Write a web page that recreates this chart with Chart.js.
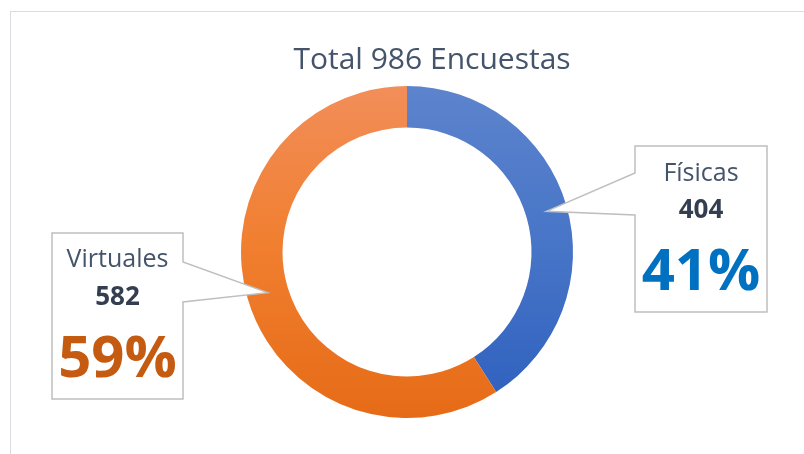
<!DOCTYPE html>
<html>
<head>
<meta charset="utf-8">
<script src="https://cdn.jsdelivr.net/npm/chart.js@4/dist/chart.umd.min.js"></script>
<style>
  html, body { margin: 0; padding: 0; background: #ffffff; overflow: hidden; }
  #wrap { position: relative; width: 804px; height: 454px; }
  #frame { position: absolute; left: 10px; top: 11px; width: 900px; height: 600px;
           border: 1.5px solid #d9dde3; box-sizing: border-box; }
  canvas { position: absolute; left: 0; top: 0; }
</style>
</head>
<body>
<div id="wrap">
  <div id="frame"></div>
  <canvas id="c" width="804" height="454"></canvas>
</div>
<script>
const categories = ['Físicas', 'Virtuales'];
const counts = [404, 582];
const percentLabels = ['41%', '59%'];
const titleText = 'Total 986 Encuestas';

const FONT = '"Open Sans", "Liberation Sans", sans-serif';

const gradStops = [
  ['#5d84cd', '#4674c7', '#2d5fbd'],
  ['#f28e59', '#f07e2e', '#e66b17']
];

// callout boxes (layout): left, top, right, bottom, pointer base y1, y2, side
const callouts = [
  { l: 635, t: 146, r: 767, b: 312, p1: 173, p2: 215, side: 'left',
    labelY: 181, valueY: 218, pctY: 290, pctColor: '#0070c0' },
  { l: 52, t: 233, r: 183, b: 399, p1: 262, p2: 302, side: 'right',
    labelY: 267, valueY: 305, pctY: 377, pctColor: '#c55a11' }
];

function makeGradient(chart, i) {
  const area = chart.chartArea;
  if (!area) return gradStops[i][0];
  const g = chart.ctx.createLinearGradient(0, area.top, 0, area.bottom);
  g.addColorStop(0, gradStops[i][0]);
  g.addColorStop(0.5, gradStops[i][1]);
  g.addColorStop(1, gradStops[i][2]);
  return g;
}

const calloutPlugin = {
  id: 'callouts',
  afterDatasetsDraw(chart) {
    const ctx = chart.ctx;
    // title
    ctx.save();
    ctx.font = '30px ' + FONT;
    ctx.fillStyle = '#44546a';
    ctx.textAlign = 'center';
    ctx.textBaseline = 'alphabetic';
    ctx.fillText(titleText, 432, 69);
    ctx.restore();

    const meta = chart.getDatasetMeta(0);
    meta.data.forEach((arc, i) => {
      const c = callouts[i];
      const tip = arc.getCenterPoint();
      ctx.save();
      ctx.beginPath();
      if (c.side === 'left') {
        ctx.moveTo(c.l, c.t);
        ctx.lineTo(c.r, c.t);
        ctx.lineTo(c.r, c.b);
        ctx.lineTo(c.l, c.b);
        ctx.lineTo(c.l, c.p2);
        ctx.lineTo(tip.x, tip.y);
        ctx.lineTo(c.l, c.p1);
      } else {
        ctx.moveTo(c.l, c.t);
        ctx.lineTo(c.r, c.t);
        ctx.lineTo(c.r, c.p1);
        ctx.lineTo(tip.x, tip.y);
        ctx.lineTo(c.r, c.p2);
        ctx.lineTo(c.r, c.b);
        ctx.lineTo(c.l, c.b);
      }
      ctx.closePath();
      ctx.fillStyle = '#ffffff';
      ctx.fill();
      ctx.lineWidth = 1.5;
      ctx.strokeStyle = '#bfbfbf';
      ctx.lineJoin = 'miter';
      ctx.stroke();

      const cx = (c.l + c.r) / 2;
      ctx.textAlign = 'center';
      ctx.textBaseline = 'alphabetic';
      ctx.fillStyle = '#44546a';
      ctx.font = '25px ' + FONT;
      ctx.fillText(categories[i], cx, c.labelY);
      ctx.fillStyle = '#333f50';
      ctx.font = 'bold 26px ' + FONT;
      ctx.fillText(String(counts[i]), cx, c.valueY);
      ctx.fillStyle = c.pctColor;
      ctx.font = 'bold 58px ' + FONT;
      ctx.fillText(percentLabels[i], cx, c.pctY);
      ctx.restore();
    });
  }
};

new Chart(document.getElementById('c'), {
  type: 'doughnut',
  data: {
    labels: categories,
    datasets: [{
      data: counts,
      backgroundColor: (context) => makeGradient(context.chart, context.dataIndex),
      borderWidth: 0,
      hoverOffset: 0
    }]
  },
  options: {
    responsive: false,
    animation: false,
    cutout: '75%',
    layout: { padding: { top: 86, bottom: 36, left: 10, right: 0 } },
    plugins: {
      legend: { display: false },
      title: { display: false },
      tooltip: { enabled: false }
    }
  },
  plugins: [calloutPlugin]
});
</script>
</body>
</html>
